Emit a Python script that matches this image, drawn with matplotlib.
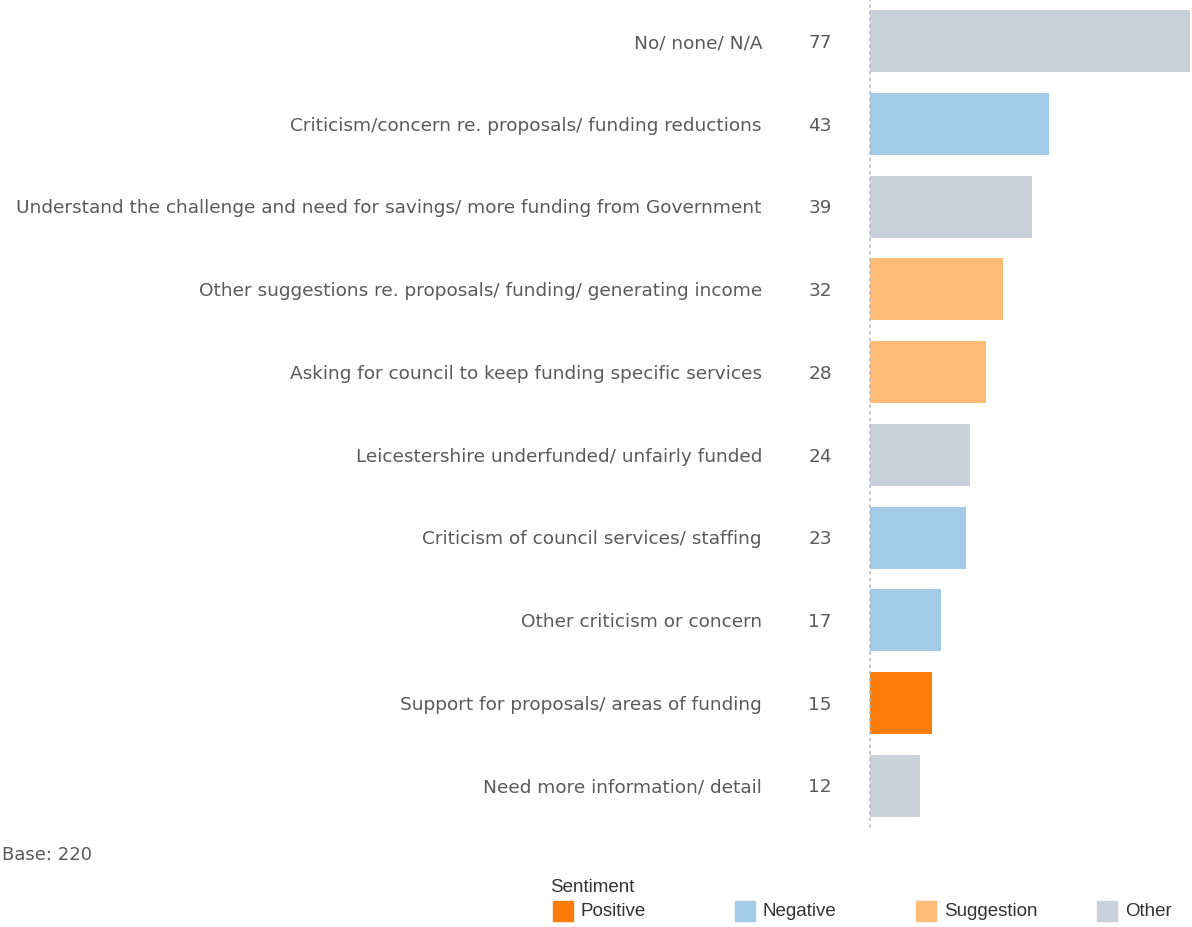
import matplotlib.pyplot as plt
from matplotlib.patches import Rectangle

# ============================================================
# DADOS
# ============================================================

categories = [
    "No/ none/ N/A",
    "Criticism/concern re. proposals/ funding reductions",
    "Understand the challenge and need for savings/ more funding from Government",
    "Other suggestions re. proposals/ funding/ generating income",
    "Asking for council to keep funding specific services",
    "Leicestershire underfunded/ unfairly funded",
    "Criticism of council services/ staffing",
    "Other criticism or concern",
    "Support for proposals/ areas of funding",
    "Need more information/ detail",
]
counts = [77, 43, 39, 32, 28, 24, 23, 17, 15, 12]
sentiment = ["Other", "Negative", "Other", "Suggestion", "Suggestion",
             "Other", "Negative", "Negative", "Positive", "Other"]

legend_order = ["Positive", "Negative", "Suggestion", "Other"]
palette = {
    "Positive": "#FC7D0B",
    "Negative": "#A3CBE8",
    "Suggestion": "#FFBB78",
    "Other": "#C9D1DB",
}

base_text = "Base: 220"

# ============================================================
# FIGURA
# ============================================================

W, H = 1192, 927
fig = plt.figure(figsize=(W / 100, H / 100), dpi=100)

ax = fig.add_axes([870 / W, 1 - 827 / H, 320 / W, 827 / H])

y = list(range(len(categories)))
colors = [palette[s] for s in sentiment]

ax.barh(y, counts, height=0.75, color=colors, zorder=2)

ax.set_xlim(0, max(counts))
ax.set_ylim(len(categories) - 0.5, -0.5)

for spine in ["top", "right", "bottom"]:
    ax.spines[spine].set_visible(False)
ax.spines["left"].set_linestyle((0, (1, 3)))
ax.spines["left"].set_color("#BBBBBB")
ax.spines["left"].set_linewidth(1.2)
ax.set_xticks([])
ax.set_yticks([])

label_x = (762 - 870) / 320
count_x = (820 - 870) / 320

for i, (cat, n) in enumerate(zip(categories, counts)):
    ax.text(label_x, i + 0.02, cat, ha="right", va="center", fontsize=13.3,
            color="#5a5a5a", transform=ax.get_yaxis_transform(),
            clip_on=False)
    ax.text(count_x, i + 0.02, str(n), ha="center", va="center",
            fontsize=13.3, color="#5a5a5a",
            transform=ax.get_yaxis_transform(), clip_on=False)

# ============================================================
# BASE E LEGENDA
# ============================================================

fig.text(2 / W, 1 - 855 / H, base_text, ha="left", va="center",
         fontsize=13, color="#5a5a5a")

fig.text(550 / W, 1 - 887 / H, "Sentiment", ha="left", va="center",
         fontsize=13.5, color="#333333", family="Liberation Sans")

leg_x = [553, 735, 916, 1097]
for lx, name in zip(leg_x, legend_order):
    fig.patches.append(Rectangle((lx / W, 1 - 921 / H), 20 / W, 20 / H,
                                 transform=fig.transFigure,
                                 color=palette[name]))
    fig.text((lx + 28) / W, 1 - 912 / H, name, ha="left", va="center",
             fontsize=13.5, color="#333333", family="Liberation Sans")

fig.savefig("out.png", dpi=100)
